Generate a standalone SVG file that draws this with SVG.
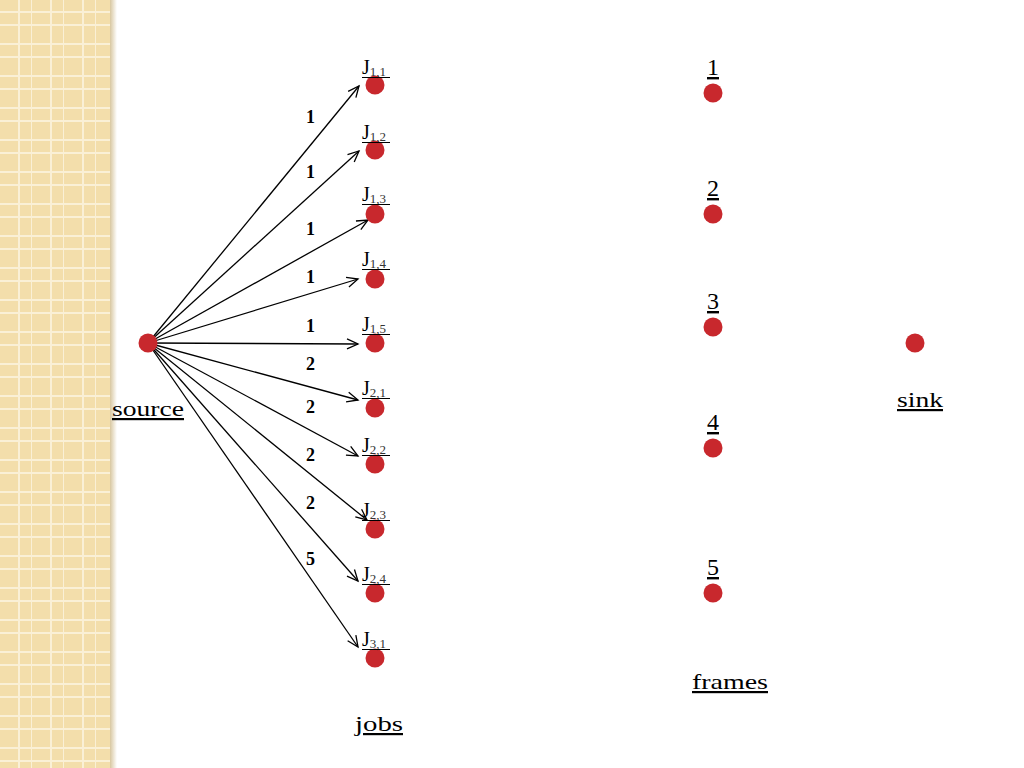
<svg xmlns="http://www.w3.org/2000/svg" width="1024" height="768" viewBox="0 0 1024 768">
<defs>
<pattern id="grid" x="0" y="0" width="32" height="32" patternUnits="userSpaceOnUse">
<rect width="32" height="32" fill="#F3DEAB"/>
<rect x="18" y="0" width="2" height="32" fill="#FAF0D6"/>
<rect x="31" y="0" width="2" height="32" fill="#FAF0D6"/>
<rect x="0" y="11" width="32" height="2" fill="#FAF0D6"/>
<rect x="0" y="24" width="32" height="2" fill="#FAF0D6"/>
</pattern>
<linearGradient id="shadow" x1="0" y1="0" x2="1" y2="0">
<stop offset="0" stop-color="#D8C7A0"/>
<stop offset="1" stop-color="#FFFFFF"/>
</linearGradient>
<marker id="arr" markerUnits="userSpaceOnUse" markerWidth="14" markerHeight="12" refX="12" refY="6" orient="auto" overflow="visible">
<path d="M1,1 L12,6 L1,11" fill="none" stroke="#000" stroke-width="1.3"/>
</marker>
</defs>
<style>
.lbl{font-family:"Liberation Serif","Times New Roman",serif;font-size:22px;fill:#000;text-decoration:underline}
.j{font-family:"Liberation Serif","Times New Roman",serif;font-size:20px;fill:#000}
.sub{font-size:13px;fill:#333}
.ul{stroke:#000;stroke-width:1}
.w{font-family:"Liberation Serif","Times New Roman",serif;font-size:18px;font-weight:bold;fill:#000}
.dot{fill:#C8282D}
.edge{stroke:#000;stroke-width:1.3;fill:none;marker-end:url(#arr)}
</style>
<rect width="1024" height="768" fill="#FFFFFF"/>
<rect x="0" y="0" width="110" height="768" fill="url(#grid)"/>
<rect x="110" y="0" width="7" height="768" fill="url(#shadow)"/>

<g id="connectors">
<line class="edge" x1="148" y1="343" x2="359" y2="86"/>
<line class="edge" x1="148" y1="343" x2="359" y2="151"/>
<line class="edge" x1="148" y1="343" x2="368" y2="220"/>
<line class="edge" x1="148" y1="343" x2="358" y2="279"/>
<line class="edge" x1="148" y1="343" x2="358" y2="344"/>
<line class="edge" x1="148" y1="343" x2="358" y2="400"/>
<line class="edge" x1="148" y1="343" x2="358" y2="456"/>
<line class="edge" x1="148" y1="343" x2="367" y2="520"/>
<line class="edge" x1="148" y1="343" x2="358" y2="581"/>
<line class="edge" x1="148" y1="343" x2="358" y2="647"/>
<text class="w" x="306" y="123">1</text>
<text class="w" x="306" y="178">1</text>
<text class="w" x="306" y="235">1</text>
<text class="w" x="306" y="283">1</text>
<text class="w" x="306" y="332">1</text>
<text class="w" x="306" y="370">2</text>
<text class="w" x="306" y="413">2</text>
<text class="w" x="306" y="461">2</text>
<text class="w" x="306" y="509">2</text>
<text class="w" x="306" y="565">5</text>
</g>

<g id="source"><circle class="dot" cx="148" cy="343" r="9.5"/><text class="lbl" x="112" y="416" textLength="72" lengthAdjust="spacingAndGlyphs">source</text></g>

<g id="J11"><circle class="dot" cx="375" cy="85" r="9.5"/><text class="j" x="362" y="74">J<tspan class="sub" dy="2">1,1</tspan></text><line class="ul" x1="362" y1="77.5" x2="390" y2="77.5"/></g>
<g id="J12"><circle class="dot" cx="375" cy="150" r="9.5"/><text class="j" x="362" y="139">J<tspan class="sub" dy="2">1,2</tspan></text><line class="ul" x1="362" y1="142.5" x2="390" y2="142.5"/></g>
<g id="J13"><circle class="dot" cx="375" cy="214" r="9.5"/><text class="j" x="362" y="201">J<tspan class="sub" dy="2">1,3</tspan></text><line class="ul" x1="362" y1="204.5" x2="390" y2="204.5"/></g>
<g id="J14"><circle class="dot" cx="375" cy="279" r="9.5"/><text class="j" x="362" y="266">J<tspan class="sub" dy="2">1,4</tspan></text><line class="ul" x1="362" y1="269.5" x2="390" y2="269.5"/></g>
<g id="J15"><circle class="dot" cx="375" cy="343" r="9.5"/><text class="j" x="362" y="331">J<tspan class="sub" dy="2">1,5</tspan></text><line class="ul" x1="362" y1="334.5" x2="390" y2="334.5"/></g>
<g id="J21"><circle class="dot" cx="375" cy="408" r="9.5"/><text class="j" x="362" y="395">J<tspan class="sub" dy="2">2,1</tspan></text><line class="ul" x1="362" y1="398.5" x2="390" y2="398.5"/></g>
<g id="J22"><circle class="dot" cx="375" cy="464" r="9.5"/><text class="j" x="362" y="452">J<tspan class="sub" dy="2">2,2</tspan></text><line class="ul" x1="362" y1="455.5" x2="390" y2="455.5"/></g>
<g id="J23"><circle class="dot" cx="375" cy="529" r="9.5"/><text class="j" x="362" y="517">J<tspan class="sub" dy="2">2,3</tspan></text><line class="ul" x1="362" y1="520.5" x2="390" y2="520.5"/></g>
<g id="J24"><circle class="dot" cx="375" cy="593" r="9.5"/><text class="j" x="362" y="581">J<tspan class="sub" dy="2">2,4</tspan></text><line class="ul" x1="362" y1="584.5" x2="390" y2="584.5"/></g>
<g id="J31"><circle class="dot" cx="375" cy="658" r="9.5"/><text class="j" x="362" y="646">J<tspan class="sub" dy="2">3,1</tspan></text><line class="ul" x1="362" y1="649.5" x2="390" y2="649.5"/></g>
<g id="jobs"><text class="lbl" x="355" y="731" textLength="48" lengthAdjust="spacingAndGlyphs">jobs</text></g>

<g id="F1"><circle class="dot" cx="713" cy="93" r="9.5"/><text class="lbl" x="713" y="75" text-anchor="middle" style="font-size:24px">1</text></g>
<g id="F2"><circle class="dot" cx="713" cy="214" r="9.5"/><text class="lbl" x="713" y="196" text-anchor="middle" style="font-size:24px">2</text></g>
<g id="F3"><circle class="dot" cx="713" cy="327" r="9.5"/><text class="lbl" x="713" y="309" text-anchor="middle" style="font-size:24px">3</text></g>
<g id="F4"><circle class="dot" cx="713" cy="448" r="9.5"/><text class="lbl" x="713" y="430" text-anchor="middle" style="font-size:24px">4</text></g>
<g id="F5"><circle class="dot" cx="713" cy="593" r="9.5"/><text class="lbl" x="713" y="575" text-anchor="middle" style="font-size:24px">5</text></g>
<g id="frames"><text class="lbl" x="692" y="689" textLength="76" lengthAdjust="spacingAndGlyphs">frames</text></g>

<g id="sink"><circle class="dot" cx="915" cy="343" r="9.5"/><text class="lbl" x="897" y="407" textLength="46" lengthAdjust="spacingAndGlyphs">sink</text></g>
</svg>
